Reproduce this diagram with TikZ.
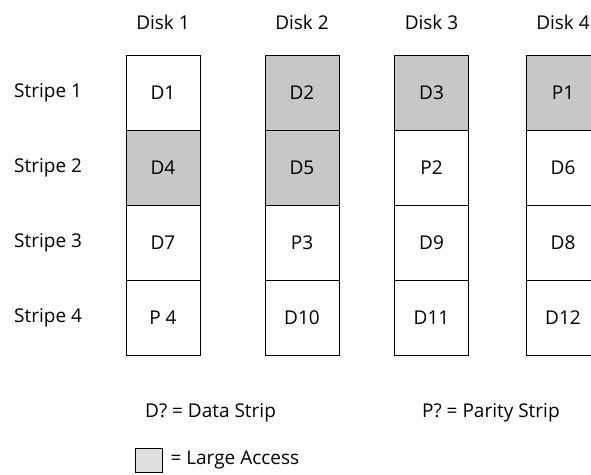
\documentclass[tikz,border=0pt]{standalone}
\usepackage{fontspec}
\setmainfont{Open Sans}
\usetikzlibrary{positioning}

\begin{document}
\begin{tikzpicture}[
  x=1pt, y=-1pt,
  font=\fontsize{19}{22}\selectfont,
  node distance=0pt,
  cell/.style={draw, line width=0.8pt, outer sep=0pt, minimum width=74pt, minimum height=75pt, inner sep=0pt},
  hit/.style={cell, fill=black!22},
  hd/.style={inner sep=0pt},
  lbl/.style={inner sep=0pt, anchor=west},
]
\clip (0,0) rectangle (591,474);
\useasboundingbox (0,0) rectangle (591,474);

% --- disk 1 ----------------------------------------------------------------
\node[cell] (d1) at (163,92.5) {D1};
\node[hit, below=of d1] (d4) {D4};
\node[cell, below=of d4] (d7) {D7};
\node[cell, below=of d7] (p4) {P 4};

% --- disk 2 ----------------------------------------------------------------
\node[hit] (d2) at (302,92.5) {D2};
\node[hit, below=of d2] (d5) {D5};
\node[cell, below=of d5] (p3) {P3};
\node[cell, below=of p3] (d10) {D10};

% --- disk 3 ----------------------------------------------------------------
\node[hit] (d3) at (431.5,92.5) {D3};
\node[cell, below=of d3] (p2) {P2};
\node[cell, below=of p2] (d9) {D9};
\node[cell, below=of d9] (d11) {D11};

% --- disk 4, cut by the right edge -----------------------------------------
\node[hit] (p1) at (563,92.5) {P1};
\node[cell, below=of p1] (d6) {D6};
\node[cell, below=of d6] (d8) {D8};
\node[cell, below=of d8] (d12) {D12};

% --- column and row heads --------------------------------------------------
\node[hd] (disk1) at (163,22) {Disk 1};
\node[hd] (disk2) at (302,22) {Disk 2};
\node[hd] (disk3) at (431.5,22) {Disk 3};
\node[hd] (disk4) at (563,22) {Disk 4};
\node[lbl] (s1) at (14,92.5) {Stripe 1};
\node[lbl] (s2) at (14,167.5) {Stripe 2};
\node[lbl] (s3) at (14,242.5) {Stripe 3};
\node[lbl] (s4) at (14,317.5) {Stripe 4};

% --- legend ----------------------------------------------------------------
\node[lbl] (dkey) at (145,413) {D? = Data Strip};
\node[lbl] (pkey) at (422,413) {P? = Parity Strip};
\node[draw, line width=0.6pt, fill=black!12, minimum width=27pt, minimum height=24pt, inner sep=0pt] (key) at (148.5,460) {};
\node[lbl, right=8pt of key] (lkey) {= Large Access};
\end{tikzpicture}
\end{document}
